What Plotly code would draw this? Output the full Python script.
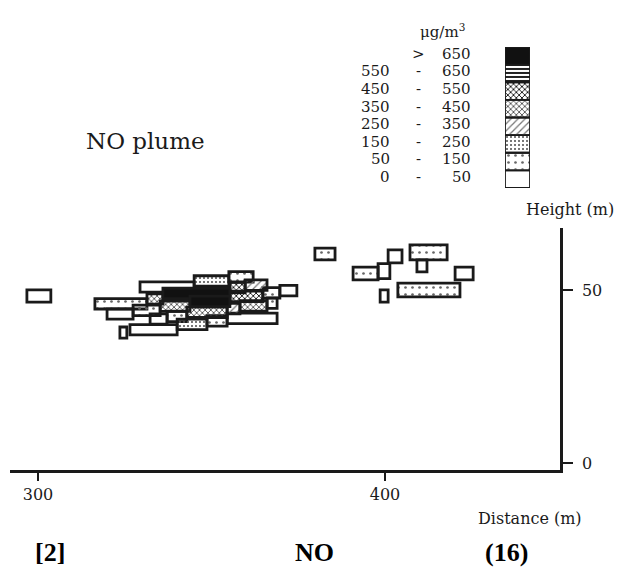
import plotly.graph_objects as go

# ---------------- data ----------------
# concentration classes (ug/m3), index 0 = lowest
class_lo = ["0", "50", "150", "250", "350", "450", "550", ">"]
class_hi = ["50", "150", "250", "350", "450", "550", "650", "650"]

# plume cells: distance range (m), height range (m), concentration class
cell_x0 = [296.8,
           329.4, 345.0, 355.0,
           316.4, 331.4, 336.0, 355.3, 359.7,
           319.9, 327.4, 335.2, 343.8, 355.3, 364.8, 369.7,
           332.3, 337.2, 342.9, 354.5, 358.2, 366.0,
           326.5, 340.1, 348.7, 354.5,
           323.6,
           379.8, 390.8, 398.0, 400.9, 407.2, 409.2, 398.6, 403.7, 420.2]
cell_x1 = [303.7,
           345.0, 355.0, 362.0,
           331.4, 336.0, 355.3, 359.7, 366.0,
           327.4, 335.2, 343.8, 355.3, 364.8, 369.7, 374.6,
           337.2, 342.9, 354.5, 358.2, 366.0, 368.9,
           340.1, 348.7, 354.5, 368.9,
           325.6,
           385.6, 398.0, 401.4, 404.9, 417.9, 412.1, 400.9, 421.6, 425.4]
cell_y0 = [46.5,
           49.35, 51.1, 52.3,
           44.5, 45.9, 47.5, 49.2, 49.9,
           41.55, 42.6, 43.8, 45.2, 46.65, 47.65, 48.3,
           40.1, 40.85, 42.05, 43.1, 43.9, 44.7,
           37.0, 38.55, 39.55, 40.3,
           36.1,
           58.7, 52.9, 53.3, 57.8, 58.7, 55.2, 46.5, 48.0, 52.9]
cell_y1 = [50.0,
           52.35, 54.1, 55.3,
           47.5, 48.9, 50.5, 52.2, 52.9,
           44.55, 45.6, 46.8, 48.2, 49.65, 50.65, 51.3,
           43.1, 43.85, 45.05, 46.1, 46.9, 47.7,
           40.0, 41.55, 42.55, 43.3,
           39.3,
           62.1, 56.6, 57.6, 61.6, 63.0, 58.7, 50.0, 52.0, 56.6]
cell_class = [0,
              0, 2, 1,
              1, 4, 7, 5, 3,
              0, 1, 4, 7, 5, 1, 0,
              0, 1, 4, 3, 4, 1,
              0, 2, 1, 0,
              0,
              1, 1, 0, 0, 1, 0, 0, 1, 0]

x_ticks = [300, 400]
y_ticks = [0, 50]

# ---------------- styles ----------------
SERIF = "DejaVu Serif"
INK = "#1a1a1a"
class_style = [
    dict(color="white"),
    dict(color="white", pattern=dict(shape=".", fgcolor="#666", size=7, solidity=0.12)),
    dict(color="white", pattern=dict(shape=".", fgcolor="#555", size=4, solidity=0.22)),
    dict(color="#ececec", pattern=dict(shape="/", fgcolor="#777", size=5, solidity=0.25)),
    dict(color="#cfcfcf", pattern=dict(shape="x", fgcolor="#333", size=4, solidity=0.35)),
    dict(color="#555555", pattern=dict(shape="x", fgcolor="#111", size=4, solidity=0.4)),
    dict(color="#888888", pattern=dict(shape="-", fgcolor="#222", size=4, solidity=0.5)),
    dict(color="#111111"),
]

fig = go.Figure()

# plume cells
for k in range(len(class_lo)):
    idx = [i for i, c in enumerate(cell_class) if c == k]
    if not idx:
        continue
    st = class_style[k]
    marker = dict(color=st["color"], line=dict(color=INK, width=2.8))
    if "pattern" in st:
        marker["pattern"] = dict(st["pattern"], fillmode="replace")
    fig.add_trace(go.Bar(
        orientation="h",
        base=[cell_x0[i] for i in idx],
        x=[cell_x1[i] - cell_x0[i] for i in idx],
        y=[(cell_y0[i] + cell_y1[i]) / 2 for i in idx],
        width=[cell_y1[i] - cell_y0[i] for i in idx],
        marker=marker, xaxis="x", yaxis="y",
        showlegend=False, hoverinfo="skip",
    ))

# legend swatch column
for k in range(len(class_lo)):
    st = class_style[k]
    marker = dict(color=st["color"], line=dict(color=INK, width=1.8))
    if "pattern" in st:
        marker["pattern"] = dict(st["pattern"], fillmode="replace")
    fig.add_trace(go.Bar(
        x=[0.5], y=[1], base=[k], width=[1],
        marker=marker, xaxis="x2", yaxis="y2",
        showlegend=False, hoverinfo="skip",
    ))


def note(x, y, text, font, xanchor="center", xref="paper", yref="paper"):
    return dict(x=x, y=y, xref=xref, yref=yref, text=text, showarrow=False,
                xanchor=xanchor, yanchor="middle", font=font)


annotations = []
leg_font = dict(family=SERIF, size=15, color=INK)
for k in range(len(class_lo)):
    yk = k + 0.62
    if class_lo[k] == ">":
        annotations.append(note(0.742, yk, "&gt;", leg_font, yref="y2"))
    else:
        annotations.append(note(0.694, yk, class_lo[k], leg_font, "right", yref="y2"))
        annotations.append(note(0.742, yk, "-", leg_font, yref="y2"))
    annotations.append(note(0.842, yk, class_hi[k], leg_font, "right", yref="y2"))

cap_font = dict(family="Liberation Serif", size=26, color="black")
annotations += [
    note(0.787, 0.955, "μg/m<sup>3</sup>", dict(family=SERIF, size=15, color=INK)),
    note(0.2455, 0.715, "NO plume", dict(family=SERIF, size=23, color=INK)),
    note(1.018, 0.567, "Height (m)", dict(family=SERIF, size=16, color=INK)),
    note(0.945, -0.1065, "Distance (m)", dict(family=SERIF, size=16, color=INK)),
    note(0.0727, -0.180, "<b>[2]</b>", cap_font),
    note(0.5545, -0.180, "<b>NO</b>", cap_font),
    note(0.9036, -0.180, "<b>(16)</b>", cap_font),
]

fig.update_layout(
    width=627, height=569,
    margin=dict(l=10, r=67, t=10, b=99),
    paper_bgcolor="white", plot_bgcolor="white",
    barmode="overlay",
    showlegend=False,
    annotations=annotations,
    xaxis=dict(domain=[0, 1], range=[291.93, 450.43], anchor="y",
               showline=True, linecolor=INK, linewidth=2.5,
               ticks="outside", ticklen=8, tickwidth=1.5, tickcolor=INK,
               tickvals=x_ticks, ticktext=[str(v) for v in x_ticks],
               tickfont=dict(family=SERIF, size=16, color=INK),
               showgrid=False, zeroline=False),
    yaxis=dict(domain=[0, 0.5261], range=[-2.0, 67.9], anchor="x", side="right",
               showline=True, linecolor=INK, linewidth=2.5,
               ticks="outside", ticklen=10, tickwidth=1.5, tickcolor=INK,
               tickvals=y_ticks, ticktext=[str(v) for v in y_ticks],
               tickfont=dict(family=SERIF, size=16, color=INK),
               ticklabelstandoff=6,
               showgrid=False, zeroline=False),
    xaxis2=dict(domain=[0.9, 0.9455], range=[0, 1], anchor="y2", visible=False),
    yaxis2=dict(domain=[0.613, 0.9196], range=[0, 8], anchor="x2", visible=False),
)

fig.write_html("out.html")
